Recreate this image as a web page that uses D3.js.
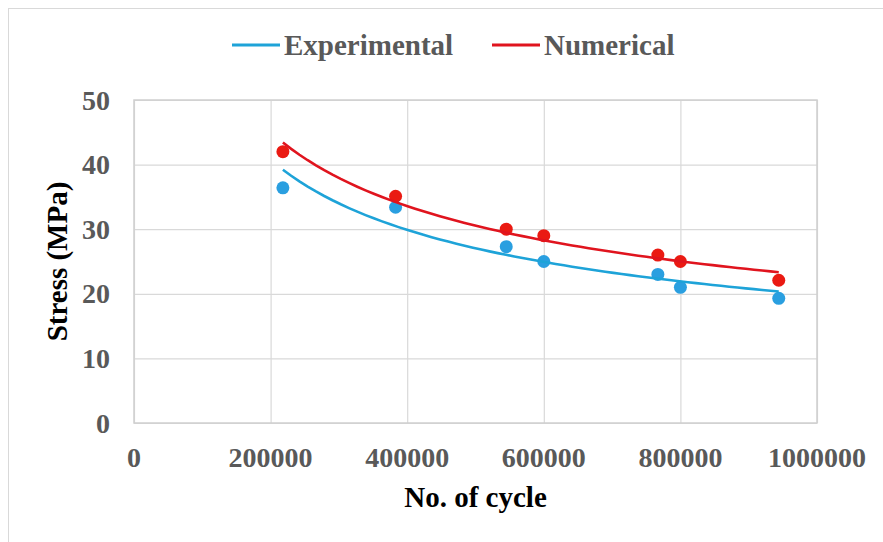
<!DOCTYPE html>
<html>
<head>
<meta charset="utf-8">
<script src="https://cdn.jsdelivr.net/npm/d3@7"></script>
<style>
  body { margin: 0; background: #fff; }
  svg text { font-family: "Liberation Serif", "Times New Roman", Times, "DejaVu Serif", serif; font-weight: bold; }
  .tick-label { fill: #595959; font-size: 28px; }
  .axis-title { fill: #000; font-size: 29px; }
  .legend-label { fill: #595959; font-size: 29px; }
</style>
</head>
<body>
<svg class="chart"></svg>
<script>
const W = 883, H = 542

// data
const cycles = [218000, 383000, 545000, 600000, 767000, 800000, 944000]
const experimental = [36.4, 33.4, 27.3, 25.0, 23.0, 21.0, 19.3]
const numerical = [42.0, 35.1, 30.0, 29.0, 26.0, 25.0, 22.1]

const xTicks = [0, 200000, 400000, 600000, 800000, 1000000]
const yTicks = [0, 10, 20, 30, 40, 50]

const series = [
    { name: 'Experimental', values: experimental, color: '#1ea3d8', dot: '#2a9fe0' },
    { name: 'Numerical', values: numerical, color: '#e0141e', dot: '#ea1a12' }
]

const margin = { left: 134, right: 66, top: 100, bottom: 119 }
const plotW = W - margin.left - margin.right
const plotH = H - margin.top - margin.bottom

const x = d3.scaleLinear().domain([0, 1000000]).range([margin.left, margin.left + plotW])
const y = d3.scaleLinear().domain([0, 50]).range([margin.top + plotH, margin.top])

// excel style power trendline: y = a * x^b, fitted on logs
const powerFit = (xs, ys) => {
    const lx = xs.map(Math.log), ly = ys.map(Math.log)
    const mx = d3.mean(lx), my = d3.mean(ly)
    const b = d3.sum(lx, (v, i) => (v - mx) * (ly[i] - my)) / d3.sum(lx, v => (v - mx) * (v - mx))
    const a = Math.exp(my - b * mx)
    return v => a * Math.pow(v, b)
}

const svg = d3.select('.chart').attr('width', W).attr('height', H)

// chart area border
svg.append('rect')
    .attr('x', 8.5).attr('y', 8.5)
    .attr('width', W + 20).attr('height', H + 20)
    .attr('fill', 'none')
    .attr('stroke', '#d9d9d9')

// grid
svg.append('g')
    .attr('transform', `translate(0,${margin.top + plotH})`)
    .call(d3.axisBottom(x).tickValues(xTicks).tickSize(-plotH).tickFormat(''))
    .call(g => g.select('.domain').remove())
    .call(g => g.selectAll('line').attr('stroke', '#d9d9d9').attr('stroke-width', 1.2))

svg.append('g')
    .attr('transform', `translate(${margin.left},0)`)
    .call(d3.axisLeft(y).tickValues(yTicks).tickSize(-plotW).tickFormat(''))
    .call(g => g.select('.domain').remove())
    .call(g => g.selectAll('line').attr('stroke', '#d9d9d9').attr('stroke-width', 1.2))

// plot area border
svg.append('rect')
    .attr('x', margin.left).attr('y', margin.top)
    .attr('width', plotW).attr('height', plotH)
    .attr('fill', 'none')
    .attr('stroke', '#cfcfcf')
    .attr('stroke-width', 1.5)

// tick labels
svg.append('g').selectAll('text')
    .data(xTicks)
    .enter().append('text')
    .attr('class', 'tick-label')
    .attr('x', d => x(d))
    .attr('y', margin.top + plotH + 44)
    .attr('text-anchor', 'middle')
    .text(d => d)

svg.append('g').selectAll('text')
    .data(yTicks)
    .enter().append('text')
    .attr('class', 'tick-label')
    .attr('x', margin.left - 24)
    .attr('y', d => y(d))
    .attr('dy', '0.34em')
    .attr('text-anchor', 'end')
    .text(d => d)

// axis titles
svg.append('text')
    .attr('class', 'axis-title')
    .attr('x', margin.left + plotW / 2)
    .attr('y', 507)
    .attr('text-anchor', 'middle')
    .text('No. of cycle')

svg.append('text')
    .attr('class', 'axis-title')
    .attr('transform', `translate(67,${margin.top + plotH / 2}) rotate(-90)`)
    .attr('text-anchor', 'middle')
    .text('Stress (MPa)')

// trendlines and points
const line = d3.line().x(d => x(d[0])).y(d => y(d[1]))
const xMin = d3.min(cycles), xMax = d3.max(cycles)

series.forEach(s => {
    const f = powerFit(cycles, s.values)
    const pts = d3.range(0, 61).map(i => {
        const v = xMin + (xMax - xMin) * i / 60
        return [v, f(v)]
    })
    svg.append('g').selectAll('circle')
        .data(cycles)
        .enter().append('circle')
        .attr('cx', d => x(d))
        .attr('cy', (d, i) => y(s.values[i]))
        .attr('r', 6.5)
        .attr('fill', s.dot)
    svg.append('path')
        .datum(pts)
        .attr('d', line)
        .attr('fill', 'none')
        .attr('stroke', s.color)
        .attr('stroke-width', 2.6)
})

// legend
const legendX = [232, 492]
const legend = svg.append('g').selectAll('g')
    .data(series)
    .enter().append('g')
    .attr('transform', (d, i) => `translate(${legendX[i]},45)`)

legend.append('line')
    .attr('x1', 0).attr('x2', 48)
    .attr('stroke', d => d.color)
    .attr('stroke-width', 3)

legend.append('text')
    .attr('class', 'legend-label')
    .attr('x', 52)
    .attr('y', 10)
    .text(d => d.name)
</script>
</body>
</html>
